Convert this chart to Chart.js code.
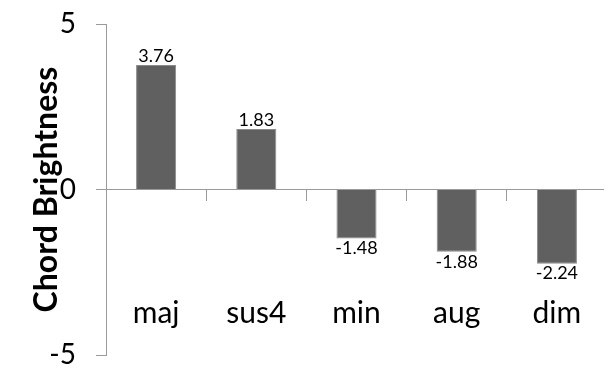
<!DOCTYPE html>
<html>
<head>
<meta charset="utf-8">
<script src="https://cdn.jsdelivr.net/npm/chart.js@4/dist/chart.umd.min.js"></script>
<style>
  html, body { margin: 0; padding: 0; background: #fff; overflow: hidden; }
  #wrap { width: 610px; height: 367px; }
</style>
</head>
<body>
<div id="wrap"><canvas id="c" width="610" height="367"></canvas></div>
<script>
// Chord types and their brightness scores
const chords = ['maj', 'sus4', 'min', 'aug', 'dim'];
const brightness = [3.76, 1.83, -1.48, -1.88, -2.24];
const yTicks = [-5, 0, 5];

const FONT = 'Lato, "Open Sans", sans-serif';

// Writes each bar's value just outside its end
const valueLabels = {
  id: 'valueLabels',
  afterDatasetsDraw(chart) {
    const ctx = chart.ctx;
    const meta = chart.getDatasetMeta(0);
    ctx.save();
    ctx.font = '18px ' + FONT;
    ctx.fillStyle = '#000';
    ctx.textAlign = 'center';
    meta.data.forEach((bar, i) => {
      const v = brightness[i];
      const txt = v.toFixed(2);
      if (v >= 0) {
        ctx.textBaseline = 'bottom';
        ctx.fillText(txt, bar.x, bar.y);
      } else {
        ctx.textBaseline = 'top';
        ctx.fillText(txt, bar.x, bar.y + 1);
      }
    });
    ctx.restore();
  }
};

// Keep the plot area edges fixed regardless of label overhang
function noPadding(scale) {
  scale.paddingLeft = 0;
  scale.paddingRight = 0;
  scale.paddingTop = 0;
  scale.paddingBottom = 0;
}

new Chart(document.getElementById('c'), {
  type: 'bar',
  data: {
    labels: chords,
    datasets: [{
      data: brightness,
      backgroundColor: '#606060',
      borderColor: '#8a8a8a',
      borderWidth: 1,
      categoryPercentage: 1,
      barPercentage: 0.4
    }]
  },
  options: {
    responsive: false,
    animation: false,
    layout: { padding: { top: 24, bottom: 12, left: 0, right: 3 } },
    plugins: { legend: { display: false }, tooltip: { enabled: false } },
    scales: {
      x: {
        position: { y: 0 },
        afterFit: noPadding,
        grid: { drawOnChartArea: false, color: '#9a9a9a', tickLength: 11, lineWidth: 1 },
        border: { color: '#9a9a9a', width: 1 },
        ticks: { color: '#000', font: { family: FONT, size: 30 }, padding: 95, maxRotation: 0 }
      },
      y: {
        min: -5, max: 5,
        afterFit(scale) { noPadding(scale); scale.width = 106; },
        afterBuildTicks(scale) { scale.ticks = yTicks.map(v => ({ value: v })); },
        grid: { drawOnChartArea: false, color: '#9a9a9a', tickLength: 10 },
        border: { color: '#9a9a9a', width: 1 },
        ticks: { color: '#000', font: { family: FONT, size: 28 }, padding: 20 },
        title: {
          display: true,
          text: 'Chord Brightness',
          color: '#000',
          font: { family: FONT, size: 32, weight: 'bold' },
          padding: { top: 27, bottom: 0 }
        }
      }
    }
  },
  plugins: [valueLabels]
});
</script>
</body>
</html>
